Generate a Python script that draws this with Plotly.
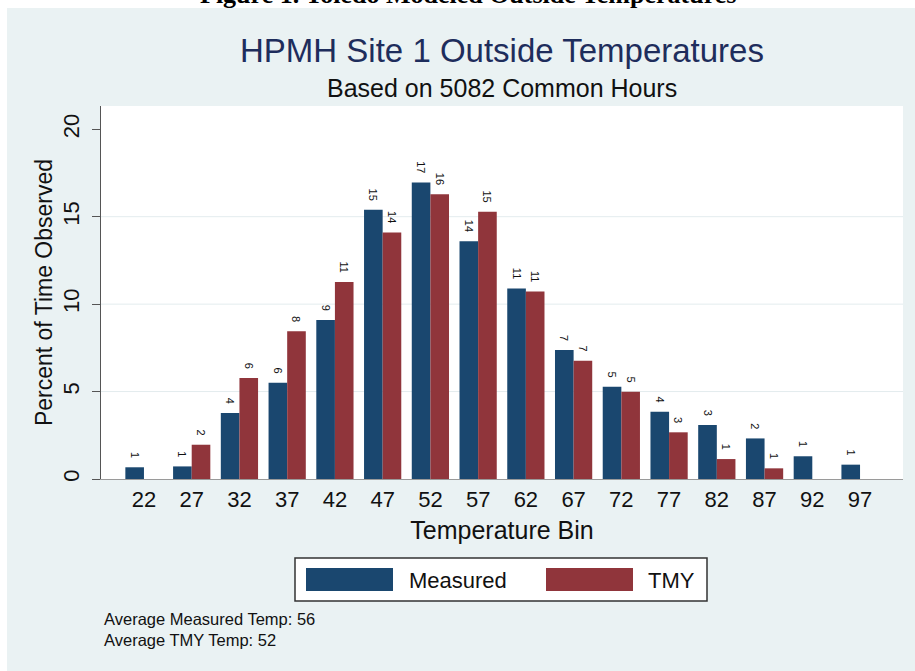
import plotly.graph_objects as go

# Dados (percentual do tempo por faixa de temperatura)
bins = [22, 27, 32, 37, 42, 47, 52, 57, 62, 67, 72, 77, 82, 87, 92, 97]
measured = [0.67, 0.72, 3.77, 5.50, 9.09, 15.39, 16.95, 13.60, 10.90, 7.37,
            5.28, 3.85, 3.09, 2.32, 1.30, 0.82]
tmy = [None, 1.96, 5.77, 8.45, 11.27, 14.10, 16.29, 15.28, 10.72, 6.76,
       4.99, 2.67, 1.14, 0.61, None, None]
y_ticks = [0, 5, 10, 15, 20]
grid_values = [5, 10, 15]
series_names = ["Measured", "TMY"]
avg_measured = 56
avg_tmy = 52
common_hours = 5082

NAVY = "#1a476f"
MAROON = "#90353b"
BG = "#eaf2f3"
FONT = "Liberation Sans, Arial, sans-serif"

# Geometria da página (pixels)
W, H = 915, 671
L, R, T, B = 101, 12, 106, 192
PW, PH = W - L - R, H - T - B


def px_x(px):
    return (px - L) / PW


def px_y(py):
    return (H - B - py) / PH


def labels(values):
    # espaços não quebráveis afastam o rótulo rotacionado do topo da barra
    return ["" if v is None else f"{v:.0f}" + "\u00a0" * 2 for v in values]


fig = go.Figure()
for name, vals, color in [(series_names[0], measured, NAVY),
                          (series_names[1], tmy, MAROON)]:
    fig.add_trace(go.Bar(
        x=bins, y=vals, name=name,
        marker=dict(color=color, line=dict(width=0)),
        text=labels(vals),
        textposition="outside",
        textangle=90,
        constraintext="none",
        cliponaxis=False,
        textfont=dict(size=11, color="#111", family=FONT),
        showlegend=False,
    ))

shapes = [
    # faixa branca do documento no topo e à esquerda
    dict(type="rect", xref="paper", yref="paper", layer="below",
         x0=px_x(-5), x1=px_x(W + 5), y0=px_y(8), y1=px_y(-5),
         fillcolor="white", line=dict(width=0)),
    dict(type="rect", xref="paper", yref="paper", layer="below",
         x0=px_x(-5), x1=px_x(7), y0=px_y(H + 5), y1=px_y(-5),
         fillcolor="white", line=dict(width=0)),
    # legenda desenhada à mão (amostras largas como no Stata)
    dict(type="rect", xref="paper", yref="paper",
         x0=px_x(295), x1=px_x(707), y0=px_y(601), y1=px_y(558),
         fillcolor="white", line=dict(color="#333", width=1.5)),
    dict(type="rect", xref="paper", yref="paper",
         x0=px_x(306), x1=px_x(393), y0=px_y(591), y1=px_y(568),
         fillcolor=NAVY, line=dict(width=0)),
    dict(type="rect", xref="paper", yref="paper",
         x0=px_x(546), x1=px_x(633), y0=px_y(591), y1=px_y(568),
         fillcolor=MAROON, line=dict(width=0)),
]

fig.update_layout(
    width=W, height=H,
    margin=dict(l=L, r=R, t=T, b=B),
    paper_bgcolor=BG,
    plot_bgcolor="white",
    barmode="group",
    bargap=0.22,
    bargroupgap=0,
    shapes=shapes,
    font=dict(family=FONT, color="#111"),
    title=dict(
        text="HPMH Site 1 Outside Temperatures",
        font=dict(size=33, color="#1e2d5c", family=FONT),
        x=0.5, xref="paper", xanchor="center",
        y=1 - 50 / H, yref="container", yanchor="middle",
    ),
    xaxis=dict(
        range=[17.5, 101.5],
        tickvals=bins,
        ticks="outside", ticklen=1, tickcolor="rgba(0,0,0,0)",
        tickfont=dict(size=22, color="#111"),
        showgrid=False, zeroline=False,
        showline=True, linecolor="#9a9a9a", linewidth=1,
        title=dict(text="Temperature Bin", font=dict(size=25, color="#111"),
                   standoff=10),
        automargin=False,
    ),
    yaxis=dict(
        range=[0, 21.33],
        tickvals=y_ticks,
        ticks="outside", ticklen=8, tickcolor="#555",
        tickangle=-90,
        ticklabelstandoff=4,
        tickfont=dict(size=22, color="#111"),
        showgrid=False, zeroline=False,
        showline=True, linecolor="#555", linewidth=1,
        title=dict(text="Percent of Time Observed",
                   font=dict(size=23, color="#111"), standoff=0),
        automargin=False,
    ),
)

for g in grid_values:
    fig.add_hline(y=g, line=dict(color="#e3ecee", width=1), layer="below")

annotations = [
    dict(text="<b>Figure 1. Toledo Modeled Outside Temperatures</b>",
         x=px_x(468), y=px_y(11), xanchor="center", yanchor="bottom",
         font=dict(size=26, family="Liberation Serif, Times New Roman, serif",
                   color="black")),
    dict(text=f"Based on {common_hours} Common Hours",
         x=0.5, y=px_y(88), xanchor="center", yanchor="middle",
         font=dict(size=25, color="#111")),
    dict(text=series_names[0], x=px_x(407), y=px_y(580),
         xanchor="left", yanchor="middle", font=dict(size=22, color="#111")),
    dict(text=series_names[1], x=px_x(646), y=px_y(580),
         xanchor="left", yanchor="middle", font=dict(size=22, color="#111")),
    dict(text=(f"Average Measured Temp: {avg_measured}<br>"
               f"Average TMY Temp: {avg_tmy}"),
         x=px_x(102), y=px_y(629), xanchor="left", yanchor="middle",
         align="left", font=dict(size=16.5, color="#111")),
]
for a in annotations:
    fig.add_annotation(xref="paper", yref="paper", showarrow=False, **a)

# a página não deve ter a margem padrão do <body>
fig.write_html("out.html", config={"displayModeBar": False},
               post_script="document.body.style.margin='0';")
